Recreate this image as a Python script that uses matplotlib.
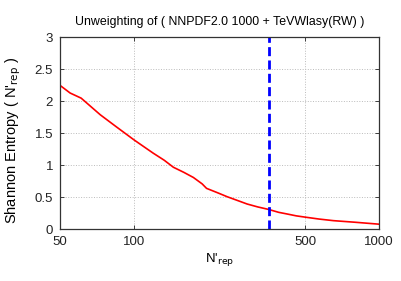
import matplotlib
matplotlib.use('Agg')
import matplotlib.pyplot as plt
from matplotlib.ticker import FixedLocator, NullLocator

plt.rcParams['font.family'] = ['Liberation Sans', 'DejaVu Sans']

# values
n_rep = [50, 55, 61, 73, 85, 100, 110, 120, 133, 145, 160, 175, 190, 198, 220, 240,
         265, 290, 320, 355, 390, 421, 460, 500, 570, 652, 800, 1000]
entropy = [2.25, 2.13, 2.05, 1.79, 1.60, 1.40, 1.29, 1.19, 1.08, 0.97, 0.89, 0.81,
           0.71, 0.64, 0.57, 0.51, 0.45, 0.395, 0.35, 0.31, 0.265, 0.24, 0.21,
           0.19, 0.16, 0.135, 0.11, 0.08]
n_cut = 355

x_ticks = [50, 100, 500, 1000]
y_ticks = [0, 0.5, 1, 1.5, 2, 2.5, 3]

fig = plt.figure(figsize=(4.01, 2.81), dpi=100)
ax = fig.add_axes([0.1496, 0.184, 0.7955, 0.683])

ax.plot(n_rep, entropy, color='red', lw=1.2)
ax.axvline(n_cut, color='blue', lw=2.0, linestyle=(0, (3.25, 1.55)))

ax.set_xscale('log')
ax.set_xlim(50, 1000)
ax.set_ylim(0, 3)
ax.xaxis.set_major_locator(FixedLocator(x_ticks))
ax.xaxis.set_minor_locator(NullLocator())
ax.set_xticklabels([str(t) for t in x_ticks])
ax.set_yticks(y_ticks)
ax.set_yticklabels(['0', '0.5', '1', '1.5', '2', '2.5', '3'])

ax.tick_params(direction='in', top=True, right=True, length=3, width=0.6,
               labelsize=9.5, colors='#222222', pad=5)
ax.grid(True, color='#bbbbbb', linestyle=':', lw=0.7)
for s in ax.spines.values():
    s.set_linewidth(0.9)
    s.set_color('#333333')

ax.set_title("Unweighting of ( NNPDF2.0 1000 + TeVWlasy(RW) )", fontsize=8.9, pad=9)
ax.set_xlabel(r"N'$_{\mathrm{rep}}$", fontsize=9.5, labelpad=2)
ax.set_ylabel(r"Shannon Entropy ( N'$_{\mathrm{rep}}$ )", fontsize=10.5)
ax.yaxis.set_label_coords(-0.115, 0.465)

fig.savefig('out.png', dpi=100)
